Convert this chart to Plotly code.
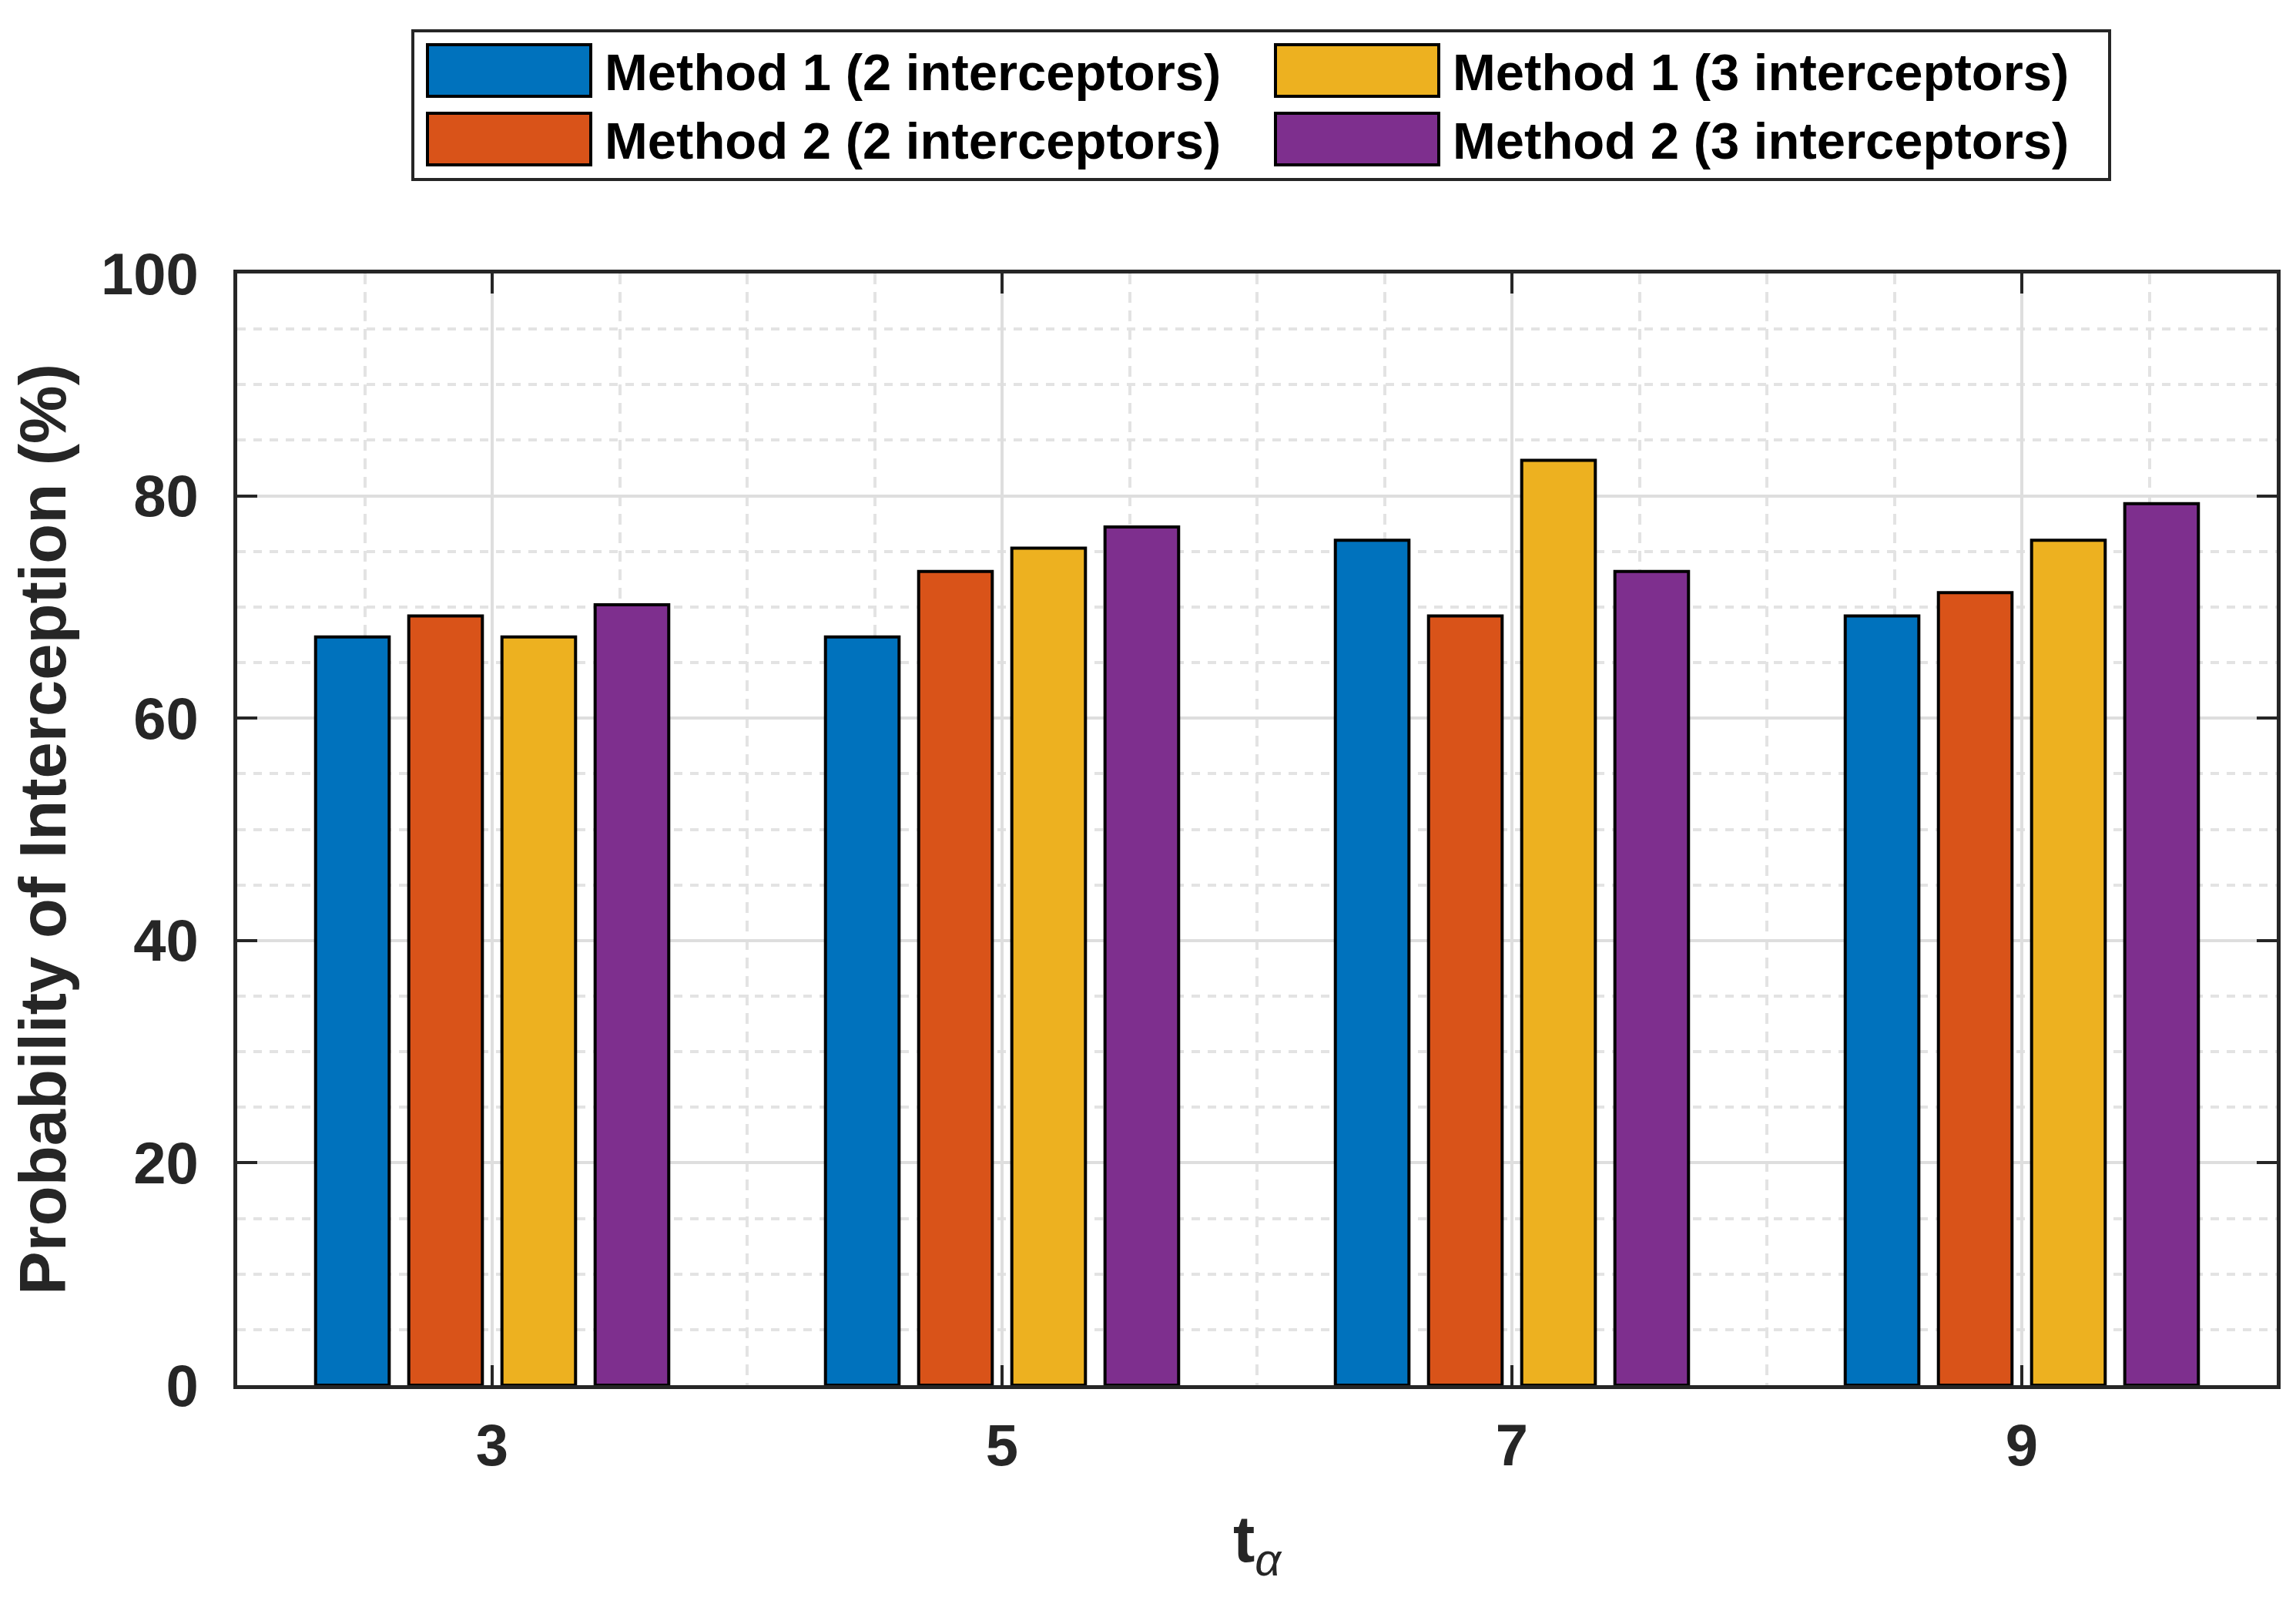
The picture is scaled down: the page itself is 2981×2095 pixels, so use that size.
import plotly.graph_objects as go

# ---- data ----
t_alpha = [3, 5, 7, 9]
series_names = [
    "Method 1 (2 interceptors)",
    "Method 2 (2 interceptors)",
    "Method 1 (3 interceptors)",
    "Method 2 (3 interceptors)",
]
m1_2 = [67.3, 67.3, 76.0, 69.2]
m2_2 = [69.2, 73.2, 69.2, 71.3]
m1_3 = [67.3, 75.3, 83.2, 76.0]
m2_3 = [70.2, 77.2, 73.2, 79.3]
series_values = [m1_2, m2_2, m1_3, m2_3]
colors = ["#0072BD", "#D95319", "#EDB120", "#7E2F8E"]

y_ticks = [0, 20, 40, 60, 80, 100]

W, H = 2981, 2095
ML, MR, MT, MB = 300, 33, 347, 305
PW = W - ML - MR
PH = H - MT - MB

FONT = "Liberation Sans, Arial, sans-serif"
DARK = "#262626"

fig = go.Figure()
for name, vals, col in zip(series_names, series_values, colors):
    fig.add_trace(go.Bar(
        x=t_alpha, y=vals, name=name,
        marker=dict(color=col, line=dict(color="black", width=4)),
        showlegend=False,
    ))

# ---- custom legend (MATLAB style wide swatches) ----
def px_x(p):
    return (p - ML) / PW

def px_y(p):
    return (H - MB - p) / PH

shapes = []
annotations = []
shapes.append(dict(type="rect", xref="paper", yref="paper",
                   x0=px_x(528), x1=px_x(2731), y0=px_y(225), y1=px_y(32),
                   line=dict(color=DARK, width=4), fillcolor="white", layer="above"))
legend_order = [(0, 0), (1, 0), (0, 1), (1, 1)]  # (row, col) for each series
col_x = [547, 1648]
row_y = [(50, 117), (139, 206)]
sw_w = 212
for (r, c), name, col in zip(legend_order, series_names, colors):
    x0 = col_x[c]
    y0, y1 = row_y[r]
    shapes.append(dict(type="rect", xref="paper", yref="paper",
                       x0=px_x(x0), x1=px_x(x0 + sw_w), y0=px_y(y1), y1=px_y(y0),
                       line=dict(color="black", width=4), fillcolor=col, layer="above"))
    annotations.append(dict(xref="paper", yref="paper", x=px_x(x0 + sw_w + 16),
                            y=px_y((y0 + y1) / 2 + 2), xanchor="left", yanchor="middle",
                            text=name, showarrow=False,
                            font=dict(family=FONT, size=67, color="black", weight="bold")))

fig.update_layout(
    width=W, height=H,
    margin=dict(l=ML, r=MR, t=MT, b=MB),
    paper_bgcolor="white", plot_bgcolor="white",
    barmode="group", bargap=0.269, bargroupgap=0.21,
    shapes=shapes, annotations=annotations,
    font=dict(family=FONT, color=DARK),
)

fig.update_xaxes(
    range=[2, 10], tickmode="array", tickvals=t_alpha, ticktext=[str(v) for v in t_alpha],
    ticks="inside", ticklen=26, tickwidth=4, tickcolor=DARK,
    showline=True, linewidth=5, linecolor=DARK, mirror="ticks",
    showgrid=True, gridcolor="#dedede", gridwidth=4,
    minor=dict(dtick=0.5, tick0=2, showgrid=True, gridcolor="#e3e3e3", gridwidth=4,
               griddash="14px,10px", ticks=""),
    tickfont=dict(family=FONT, size=76, color=DARK, weight="bold"),
    ticklabelstandoff=8,
    title=dict(text='t<sub><span style="font-weight:normal"><i>α</i></span></sub>',
               font=dict(family=FONT, size=85, color=DARK, weight="bold"),
               standoff=52),
    zeroline=False,
)
fig.update_yaxes(
    range=[0, 100], tickmode="array", tickvals=y_ticks,
    ticks="inside", ticklen=26, tickwidth=4, tickcolor=DARK,
    showline=True, linewidth=5, linecolor=DARK, mirror="ticks",
    showgrid=True, gridcolor="#dedede", gridwidth=4,
    minor=dict(dtick=5, tick0=0, showgrid=True, gridcolor="#e3e3e3", gridwidth=4,
               griddash="11px,10px", ticks=""),
    tickfont=dict(family=FONT, size=76, color=DARK, weight="bold"),
    ticklabelstandoff=30,
    title=dict(text="Probability of Interception (%)",
               font=dict(family=FONT, size=85, color=DARK, weight="bold"), standoff=20),
    zeroline=False,
)

fig.write_html("out.html")
